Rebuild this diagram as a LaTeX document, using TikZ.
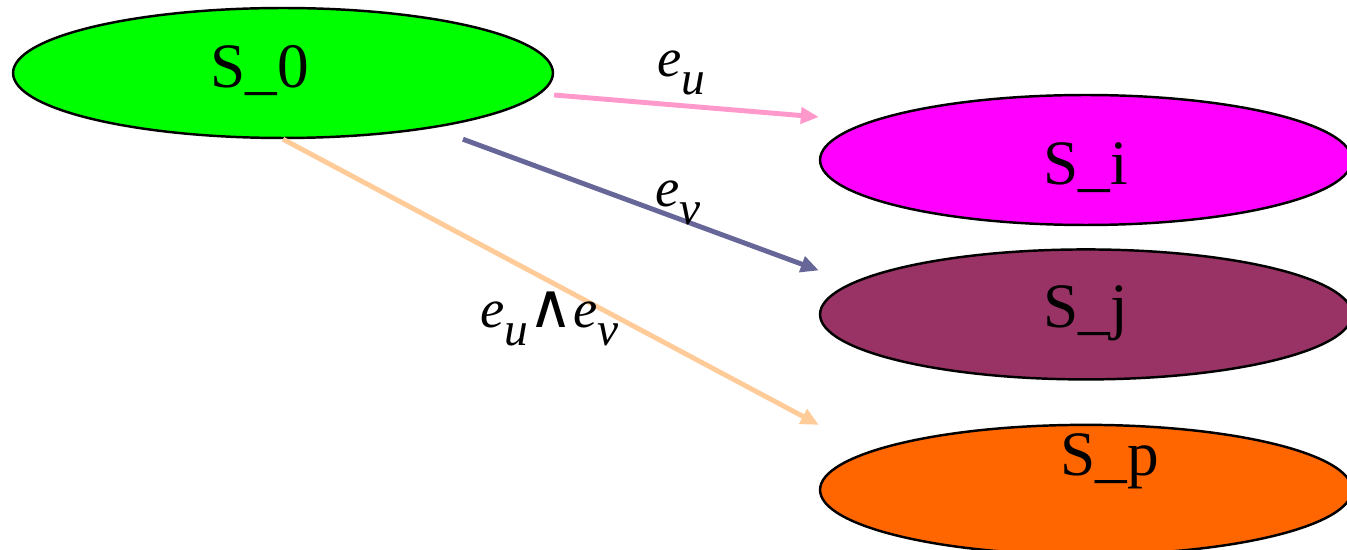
\documentclass[tikz,border=0pt]{standalone}
\usepackage{fontspec}
\setmainfont{Liberation Serif}
\newfontfamily\wedgefont{DejaVu Sans}
\usetikzlibrary{arrows.meta,positioning,shapes.geometric}
\definecolor{stgreen}{HTML}{00FF00}
\definecolor{stmagenta}{HTML}{FF00FF}
\definecolor{stplum}{HTML}{993366}
\definecolor{storange}{HTML}{FF6600}
\definecolor{edgepink}{HTML}{FF99CC}
\definecolor{edgeslate}{HTML}{666699}
\definecolor{edgepeach}{HTML}{FFCC99}
\newcommand{\lowsub}[1]{\raisebox{-0.32em}{\fontsize{27}{27}\selectfont\itshape #1}}

\begin{document}
\begin{tikzpicture}[x=0.02cm, y=-0.02cm,
  statebox/.style={ellipse, draw=black, line width=1.4pt, minimum width=10.8cm, minimum height=2.6cm, inner sep=0pt},
  stlabel/.style={font=\fontsize{36}{40}\selectfont, inner sep=0pt},
  arr/.style={-{Triangle[length=0.36cm, width=0.32cm]}, line width=2.8pt},
  lbl/.style={font=\fontsize{31}{36}\selectfont\itshape, inner sep=0pt, anchor=base west}
]
\useasboundingbox (0,0) rectangle (1347,550);
\node[statebox, fill=stgreen, label={[stlabel, xshift=-0.46cm, yshift=0.04cm]center:S\_0}] (s0) at (283,73) {};
\node[statebox, fill=stmagenta, minimum width=10.64cm, label={[stlabel, yshift=-0.16cm]center:S\_i}] (si) at (1086,160) {};
\node[statebox, fill=stplum, minimum width=10.64cm, below=0.44cm of si, label={[stlabel, yshift=0.02cm]center:S\_j}] (sj) {};
\node[statebox, fill=storange, minimum width=10.64cm, below=0.86cm of sj, label={[stlabel, xshift=0.48cm, yshift=0.58cm]center:S\_p}] (sp) {};
\coordinate (ui) at ([yshift=0.86cm]si.west);
\coordinate (vj) at ([yshift=0.88cm]sj.west);
\coordinate (pp) at ([yshift=1.3cm]sp.west);
\draw[arr, edgepink] ([yshift=-0.44cm]s0.east) -- (ui);
\draw[arr, edgeslate] ([xshift=3.6cm]s0.south) -- (vj);
\draw[arr, edgepeach] (s0.south) -- (pp);
\node[lbl] (lu) at (657,77) {e\lowsub{u}};
\node[lbl] (lv) at (655,207) {e\lowsub{v}};
\node[lbl] (luv) at (480,328) {e\lowsub{u}{\wedgefont\upshape\fontsize{35}{35}\selectfont ∧}e\lowsub{v}};
\end{tikzpicture}
\end{document}
